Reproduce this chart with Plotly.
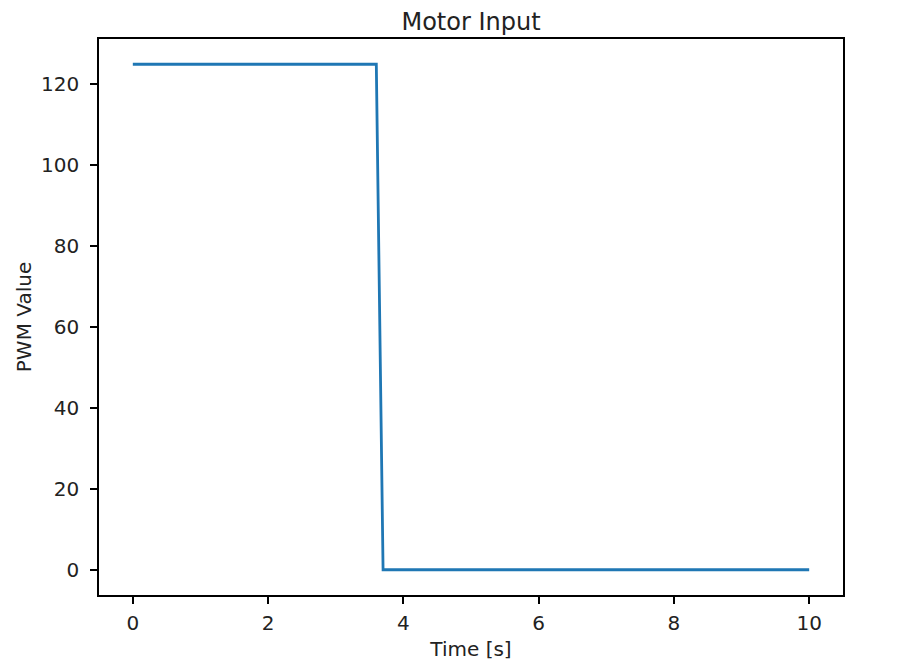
import plotly.graph_objects as go

time_s = [0.0, 3.6, 3.7, 10.0]
pwm_value = [125, 125, 0, 0]
x_ticks = [0, 2, 4, 6, 8, 10]
y_ticks = [0, 20, 40, 60, 80, 100, 120]

font_family = "DejaVu Sans"
text_color = "#222222"

fig = go.Figure()
fig.add_trace(go.Scatter(x=time_s, y=pwm_value, mode="lines",
                         line=dict(color="#1f77b4", width=2.8), showlegend=False))

axis_common = dict(showgrid=False, zeroline=False, showline=True, mirror=True,
                   linecolor="black", linewidth=1.5, ticks="outside", ticklen=7,
                   tickwidth=1.5, tickcolor="black", automargin=False,
                   tickfont=dict(family=font_family, size=20, color=text_color))

fig.update_xaxes(range=[-0.5, 10.5], tickvals=x_ticks, ticklabelstandoff=2,
                 title=dict(text="Time [s]", font=dict(family=font_family, size=20, color=text_color), standoff=8),
                 **axis_common)
fig.update_yaxes(range=[-6.25, 131.25], tickvals=y_ticks, ticklabelstandoff=7,
                 title=dict(text="PWM Value", font=dict(family=font_family, size=20, color=text_color), standoff=4),
                 **axis_common)

W, H = 896, 658
fig.update_layout(
    width=W, height=H,
    margin=dict(l=91, r=61, t=31, b=71),
    paper_bgcolor="white", plot_bgcolor="white",
    title=dict(text="Motor Input", x=0.5, xref="paper", xanchor="center", y=1 - 14 / H, yanchor="middle",
               font=dict(family=font_family, size=24, color=text_color)),
)

fig.write_html("out.html")
